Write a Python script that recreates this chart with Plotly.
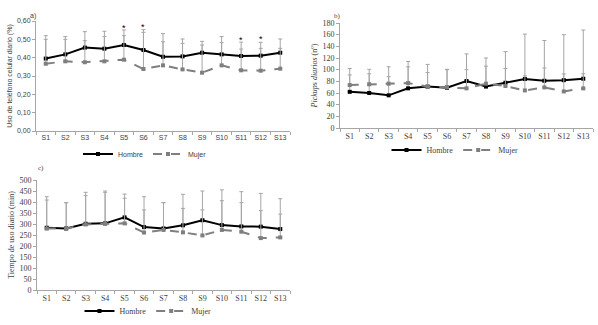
import plotly.graph_objects as go

weeks = ["S1", "S2", "S3", "S4", "S5", "S6", "S7", "S8", "S9", "S10", "S11", "S12", "S13"]

# a) Uso de teléfono celular diario (%)
uso_h = [0.395, 0.418, 0.455, 0.449, 0.469, 0.442, 0.405, 0.407, 0.427, 0.418, 0.409, 0.411, 0.427]
uso_h_sd = [0.125, 0.097, 0.087, 0.095, 0.082, 0.111, 0.126, 0.095, 0.062, 0.097, 0.076, 0.073, 0.075]
uso_m = [0.367, 0.380, 0.375, 0.380, 0.389, 0.338, 0.358, 0.336, 0.318, 0.358, 0.331, 0.329, 0.340]
uso_m_sd = [0.133, 0.120, 0.118, 0.135, 0.131, 0.200, 0.129, 0.142, 0.151, 0.124, 0.116, 0.122, 0.111]
sig_weeks = ["S5", "S6", "S11", "S12"]
sig_y = [0.573, 0.580, 0.509, 0.515]

# b) Pickups diarios (nº)
pick_h = [62, 60, 56, 68, 71, 69, 80.5, 71, 77.6, 84, 81, 82, 84.5]
pick_h_sd = [29, 33, 32, 37, 24, 31, 46.5, 35, 53.4, 77, 69, 78, 83.5]
pick_m = [73.6, 75, 76, 77, 71, 70, 68, 76, 72, 64.4, 69.6, 62.7, 67.9]
pick_m_sd = [28.4, 25.6, 29, 37, 38, 30.6, 32, 44, 30, 25, 33.4, 30, 25.1]

# c) Tiempo de uso diario (min)
tiempo_h = [283, 280, 301, 303, 330, 286, 280, 294, 317, 295, 289, 288, 277]
tiempo_h_sd = [141, 117, 143, 147, 106, 138, 117, 141, 133, 160, 158, 151, 138]
tiempo_m = [279, 279, 298, 301, 303, 261, 273, 262, 248, 273, 265, 236, 239]
tiempo_m_sd = [130, 118, 131, 143, 114, 103, 124, 109, 116, 133, 132, 125, 106]

H_COLOR = "#000000"
M_COLOR = "#7f7f7f"
ERR_COLOR = "#a6a6a6"

fig = go.Figure()

panels = [
    ("x", "y", "legend", uso_h, uso_h_sd, uso_m, uso_m_sd),
    ("x2", "y2", "legend2", pick_h, pick_h_sd, pick_m, pick_m_sd),
    ("x3", "y3", "legend3", tiempo_h, tiempo_h_sd, tiempo_m, tiempo_m_sd),
]

for xa, ya, lg, h, hsd, m, msd in panels:
    fig.add_trace(go.Scatter(
        x=weeks, y=h, xaxis=xa, yaxis=ya, legend=lg, name="Hombre",
        mode="lines+markers",
        line=dict(color=H_COLOR, width=2),
        marker=dict(symbol="square", size=4, color=H_COLOR),
        error_y=dict(type="data", array=hsd, symmetric=False, arrayminus=[0] * len(hsd),
                     color=ERR_COLOR, thickness=1, width=2),
    ))
    fig.add_trace(go.Scatter(
        x=weeks, y=m, xaxis=xa, yaxis=ya, legend=lg, name="Mujer",
        mode="lines+markers",
        line=dict(color=M_COLOR, width=2, dash="dash"),
        marker=dict(symbol="square", size=4, color=M_COLOR),
        error_y=dict(type="data", array=msd, symmetric=False, arrayminus=[0] * len(msd),
                     color=ERR_COLOR, thickness=1, width=2),
    ))

W, Hh = 598, 325
def fx(px):
    return px / W
def fy(py):
    return (Hh - py) / Hh

axis_common = dict(showline=True, linecolor="#a6a6a6", linewidth=1, showgrid=False,
                   zeroline=False, ticks="outside", ticklen=3, tickcolor="#a6a6a6",
                   automargin=False)

sans = "Liberation Sans"
serif = "Liberation Serif"
TXT = "#404040"

def xax(dom, anchor, fam, size):
    return dict(domain=dom, anchor=anchor, type="category", range=[-0.5, 12.5],
                tickson="boundaries", tickangle=0,
                tickfont=dict(family=fam, size=size, color=TXT), **axis_common)

fig.update_layout(
    width=W, height=Hh, margin=dict(l=0, r=0, t=0, b=0, autoexpand=False),
    paper_bgcolor="white", plot_bgcolor="white",
    separators=",.",
    showlegend=True,
    xaxis=xax([fx(36), fx(290)], "y", sans, 7),
    yaxis=dict(domain=[fy(131), fy(21)], anchor="x", range=[0, 0.6], dtick=0.1, tickformat=".2f",
               tickfont=dict(family=sans, size=7, color=TXT),
               title=dict(text="Uso de teléfono celular diario (%)", font=dict(family=sans, size=7, color=TXT), standoff=3),
               **axis_common),
    xaxis2=xax([fx(340), fx(593)], "y2", serif, 8),
    yaxis2=dict(domain=[fy(128), fy(23)], anchor="x2", range=[0, 180], dtick=20,
                tickfont=dict(family=serif, size=8, color=TXT),
                title=dict(text="<i>Pickups diarios</i> (nº)", font=dict(family=serif, size=8, color=TXT), standoff=3),
                **axis_common),
    xaxis3=xax([fx(37), fx(290)], "y3", serif, 8),
    yaxis3=dict(domain=[fy(290), fy(180)], anchor="x3", range=[0, 500], dtick=50,
                tickfont=dict(family=serif, size=8, color=TXT),
                title=dict(text="Tiempo de uso diario (min)", font=dict(family=serif, size=8, color=TXT), standoff=3),
                **axis_common),
    legend=dict(orientation="h", x=fx(145), y=fy(154), xanchor="center", yanchor="middle",
                font=dict(family=sans, size=7, color=TXT), bgcolor="rgba(0,0,0,0)"),
    legend2=dict(orientation="h", x=fx(455), y=fy(150), xanchor="center", yanchor="middle",
                 font=dict(family=serif, size=8, color=TXT), bgcolor="rgba(0,0,0,0)"),
    legend3=dict(orientation="h", x=fx(148), y=fy(311), xanchor="center", yanchor="middle",
                 font=dict(family=serif, size=8, color=TXT), bgcolor="rgba(0,0,0,0)"),
)

annotations = [
    dict(text="a)", x=fx(28), y=fy(10), xref="paper", yref="paper", showarrow=False,
         font=dict(family=sans, size=7, color=TXT)),
    dict(text="b)", x=fx(337), y=fy(10), xref="paper", yref="paper", showarrow=False,
         font=dict(family=serif, size=7, color=TXT)),
    dict(text="c)", x=fx(36), y=fy(168), xref="paper", yref="paper", showarrow=False,
         font=dict(family=serif, size=7, color=TXT)),
]
for wk, yv in zip(sig_weeks, sig_y):
    annotations.append(dict(text="*", x=wk, y=yv, xref="x", yref="y", showarrow=False,
                            font=dict(family=sans, size=9, color="#000000"), yshift=-2))
fig.update_layout(annotations=annotations)

fig.write_html("out.html", config={"displayModeBar": False},
               post_script="document.body.style.margin='0';document.body.style.overflow='hidden';")
